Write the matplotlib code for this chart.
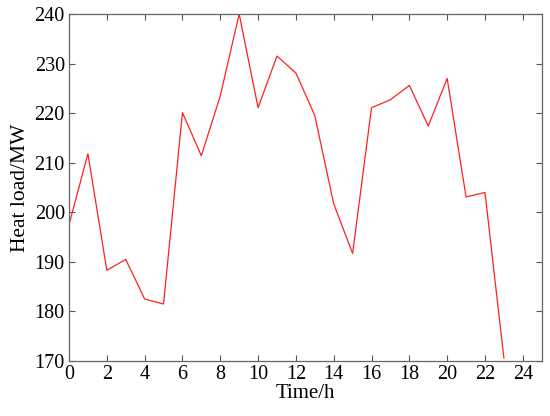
import matplotlib.pyplot as plt

hours = list(range(24))
heat_load = [197.5, 211.8, 188.3, 190.5, 182.5, 181.5, 220.1, 211.4, 223.5, 240.0,
             221.1, 231.5, 228.1, 219.5, 201.7, 191.7, 221.1, 222.7, 225.6, 217.4,
             227.0, 203.1, 204.0, 170.6]
x_ticks = list(range(0, 25, 2))
y_ticks = list(range(170, 241, 10))

plt.rcParams['font.family'] = ['Liberation Serif', 'DejaVu Serif']

fig = plt.figure(figsize=(5.5, 4.16), dpi=100)
ax = fig.add_axes([69 / 550, 1 - 361 / 416, (541.7 - 69) / 550, (361 - 14) / 416])
ax.plot(hours, heat_load, color='#ff2020', linewidth=0.9)

ax.set_xlim(0, 25)
ax.set_ylim(170, 240)
ax.set_xticks(x_ticks)
ax.set_yticks(y_ticks)
ax.tick_params(direction='in', top=True, right=True, labelsize=14.5, length=4,
               color='#555555', pad=3)
for s in ax.spines.values():
    s.set_color('#666666')
    s.set_linewidth(0.9)
ax.set_xlabel("Time/h", fontsize=15, labelpad=0)
ax.set_ylabel("Heat load/MW", fontsize=15.5, labelpad=3)

plt.savefig("out.png", dpi=100)
